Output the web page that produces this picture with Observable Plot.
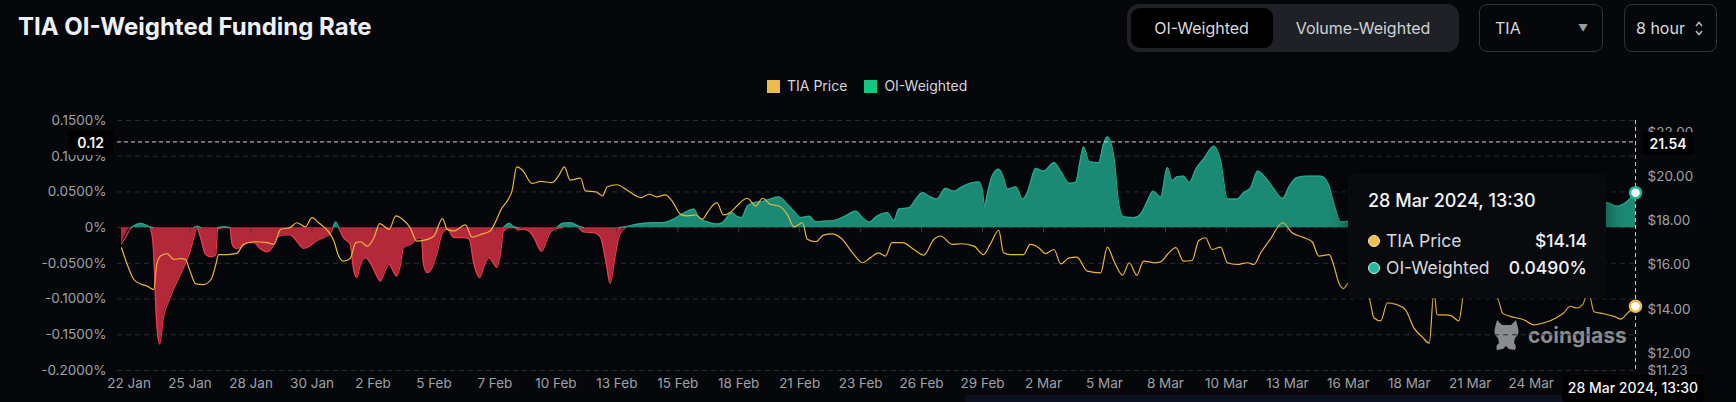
<!DOCTYPE html>
<html><head><meta charset="utf-8">
<script src="https://cdn.jsdelivr.net/npm/d3@7"></script>
<script src="https://cdn.jsdelivr.net/npm/@observablehq/plot@0.6"></script>
<style>
html,body{margin:0;padding:0;background:#05070b;}
body{width:1736px;height:402px;overflow:hidden;position:relative;font-family:Inter,"Noto Sans",sans-serif;}
.abs{position:absolute;}
#title{left:18px;top:13px;font-size:24px;font-weight:700;color:#eef0f4;letter-spacing:0px;white-space:nowrap;line-height:28px;}
#seg{left:1127px;top:4px;width:332px;height:48px;background:#1f2127;border-radius:12px;}
#segOn{left:3.5px;top:4px;width:142px;height:40px;background:#000;border-radius:9px;color:#d8dadd;font-size:16px;line-height:40px;text-align:center;}
#segOff{left:166px;top:4px;width:140px;height:40px;color:#d0d2d6;font-size:16px;line-height:40px;text-align:center;}
.box{top:4px;height:46px;border:1px solid #30333a;border-radius:8px;color:#d8dadd;font-size:16px;line-height:46px;}
#legend{left:767px;top:78px;font-size:14px;color:#d4d6da;line-height:15px;white-space:nowrap;}
.sw{display:inline-block;width:13px;height:13px;vertical-align:-2px;margin-right:7px;}
#chart{left:0;top:100px;z-index:1;}
#wm{left:1493px;top:318px;z-index:0;white-space:nowrap;color:#8a8b8e;font-weight:700;font-size:21px;}
#tip{left:1348px;top:173px;width:258px;height:125px;background:#090a0e;border-radius:4px;z-index:2;box-shadow:0 0 20px rgba(0,0,0,0.5);color:#d6d8dc;}
.badge{background:#000;color:#f4f4f4;z-index:3;text-align:center;border-radius:3px;}
#strip{left:965px;top:395px;width:676px;height:7px;background:#0b1120;z-index:0;}
</style></head>
<body>
<div id="title" class="abs">TIA OI-Weighted Funding Rate</div>
<div id="seg" class="abs"><div id="segOn" class="abs">OI-Weighted</div><div id="segOff" class="abs">Volume-Weighted</div></div>
<div class="abs box" style="left:1479px;width:122px;"><span style="margin-left:15px">TIA</span><span class="abs" style="left:98px;top:0;font-size:10px;color:#9a9ca0">&#9660;</span></div>
<div class="abs box" style="left:1624px;width:91px;"><span style="margin-left:11px">8 hour</span><svg class="abs" style="left:69px;top:15px" width="10" height="17" viewBox="0 0 10 17"><path d="M2 6 L5 2.5 L8 6 M2 11 L5 14.5 L8 11" fill="none" stroke="#b8babe" stroke-width="1.5"/></svg></div>
<div id="legend" class="abs"><span class="sw" style="background:#ecbb4c"></span>TIA Price<span class="sw" style="background:#16c784;margin-left:17px"></span>OI-Weighted</div>
<div id="strip" class="abs"></div>
<div id="wm" class="abs"><svg width="27" height="34" viewBox="0 0 27 34" style="vertical-align:-9px;margin-right:8px"><path d="M4 2 L9 7 L18 7 L23 2 L25 10 Q27 16 22 20 L21 25 Q24 28 22 32 L16 31 L13 28 L10 31 L4 32 Q2 28 6 25 L5 20 Q0 16 2 10 Z" fill="#8a8b8e"/></svg>coinglass</div>
<div id="chart" class="abs"></div>
<div id="tip" class="abs">
  <div class="abs" style="left:20px;top:17px;font-size:18px;font-weight:500;color:#f2f3f5;white-space:nowrap">28 Mar 2024, 13:30</div>
  <div class="abs" style="left:20px;top:57px;width:219px;font-size:17.5px;line-height:22px;">
    <span style="display:inline-block;width:10px;height:10px;border-radius:50%;background:#efbf4e;border:1px solid #f6e7c0;vertical-align:0px;margin-right:6px"></span>TIA Price<span style="float:right;color:#f2f3f5;font-weight:500">$14.14</span>
  </div>
  <div class="abs" style="left:20px;top:84px;width:219px;font-size:17.5px;line-height:22px;">
    <span style="display:inline-block;width:10px;height:10px;border-radius:50%;background:#25b89d;border:1px solid #bfeee4;vertical-align:0px;margin-right:6px"></span>OI-Weighted<span style="float:right;color:#f2f3f5;font-weight:500">0.0490%</span>
  </div>
</div>
<div class="abs badge" style="left:68px;top:130px;width:45px;height:25px;line-height:25px;font-size:14px;font-weight:600">0.12</div>
<div class="abs badge" style="left:1642px;top:132px;width:52px;height:23px;line-height:23px;font-size:14px;font-weight:600">21.54</div>
<div class="abs badge" style="left:1562px;top:375px;width:142px;height:27px;line-height:25px;font-size:14px;font-weight:500">28 Mar 2024, 13:30</div>
<script>
const rateTimes = ["01-22 08","01-22 18","01-23 04","01-23 14","01-23 17","01-23 21","01-24 00","01-24 04","01-24 11","01-24 22","01-25 07","01-25 12","01-25 15","01-25 19","01-26 00","01-26 06","01-26 11","01-26 13","01-26 20","01-27 02","01-27 04","01-27 08","01-27 13","01-27 20","01-28 03","01-28 10","01-28 17","01-28 22","01-29 03","01-29 10","01-29 17","01-30 00","01-30 07","01-30 13","01-30 20","01-31 04","01-31 11","01-31 14","01-31 17","01-31 20","02-01 01","02-01 08","02-01 12","02-01 15","02-01 19","02-02 00","02-02 06","02-02 11","02-02 16","02-02 20","02-03 01","02-03 06","02-03 09","02-03 13","02-03 16","02-04 00","02-04 06","02-04 11","02-04 13","02-04 17","02-04 22","02-05 03","02-05 09","02-05 14","02-05 21","02-06 07","02-06 13","02-06 18","02-07 00","02-07 04","02-07 10","02-07 15","02-07 18","02-07 22","02-08 01","02-08 07","02-08 12","02-08 17","02-08 22","02-09 04","02-09 09","02-09 17","02-09 21","02-10 02","02-10 09","02-10 15","02-10 23","02-11 08","02-11 13","02-12 00","02-12 07","02-12 13","02-12 17","02-12 22","02-13 02","02-13 09","02-13 18","02-14 04","02-14 15","02-15 01","02-15 12","02-15 22","02-16 09","02-16 14","02-16 23","02-17 09","02-17 15","02-17 20","02-18 01","02-18 06","02-18 11","02-18 17","02-19 00","02-19 10","02-19 17","02-20 02","02-20 11","02-20 18","02-21 01","02-21 10","02-21 17","02-22 01","02-22 12","02-22 22","02-23 11","02-23 18","02-24 01","02-24 09","02-24 20","02-25 03","02-25 08","02-25 19","02-26 02","02-26 09","02-26 16","02-27 00","02-27 09","02-27 18","02-28 01","02-28 11","02-28 20","02-29 00","02-29 02","02-29 05","02-29 10","02-29 17","02-29 22","03-01 02","03-01 11","03-01 18","03-01 23","03-02 08","03-02 16","03-03 03","03-03 10","03-03 19","03-04 02","03-04 06","03-04 10","03-04 16","03-05 02","03-05 07","03-05 11","03-05 18","03-05 23","03-06 04","03-06 15","03-06 22","03-07 05","03-07 11","03-07 19","03-08 02","03-08 07","03-08 12","03-08 19","03-09 01","03-09 08","03-09 16","03-10 03","03-10 10","03-10 17","03-11 03","03-11 10","03-11 17","03-12 01","03-12 09","03-12 18","03-13 03","03-13 10","03-13 18","03-14 05","03-14 19","03-15 03","03-15 09","03-15 16","03-16 00","03-17 00","03-18 12","03-20 00","03-21 12","03-23 00","03-24 12","03-26 00","03-27 07","03-27 18","03-28 01","03-28 13:30"];
const rateValues = [-0.023,0.000,0.006,0.001,-0.020,-0.135,-0.163,-0.126,-0.098,-0.065,-0.037,-0.014,0.002,-0.014,-0.037,-0.041,-0.038,-0.002,0.001,0.000,-0.023,-0.029,-0.028,-0.021,-0.021,-0.030,-0.034,-0.028,-0.014,-0.010,-0.010,-0.019,-0.029,-0.026,-0.019,-0.014,-0.009,0.000,0.008,0.000,-0.014,-0.023,-0.061,-0.070,-0.051,-0.042,-0.051,-0.065,-0.075,-0.063,-0.051,-0.063,-0.068,-0.051,-0.028,-0.023,-0.016,-0.014,-0.051,-0.063,-0.056,-0.037,-0.007,-0.002,-0.014,-0.014,-0.016,-0.051,-0.070,-0.056,-0.042,-0.051,-0.056,-0.035,-0.005,0.006,0.001,-0.003,-0.002,-0.005,-0.014,-0.033,-0.023,-0.007,-0.001,0.006,0.007,0.002,-0.006,-0.007,-0.014,-0.051,-0.078,-0.042,-0.014,0.001,0.004,0.006,0.007,0.007,0.012,0.020,0.026,0.014,0.008,0.005,0.007,0.015,0.021,0.016,0.014,0.030,0.035,0.037,0.040,0.043,0.033,0.023,0.014,0.016,0.008,0.009,0.010,0.015,0.023,0.014,0.008,0.016,0.021,0.010,0.026,0.028,0.040,0.049,0.044,0.040,0.055,0.051,0.056,0.062,0.064,0.051,0.030,0.047,0.072,0.082,0.070,0.054,0.057,0.040,0.049,0.083,0.079,0.091,0.079,0.062,0.064,0.090,0.113,0.092,0.091,0.117,0.127,0.098,0.033,0.015,0.014,0.019,0.037,0.051,0.043,0.084,0.066,0.071,0.072,0.063,0.082,0.096,0.114,0.093,0.040,0.040,0.049,0.055,0.079,0.070,0.054,0.041,0.058,0.070,0.072,0.072,0.061,0.033,0.008,0.009,0.015,0.010,0.012,0.020,0.015,0.025,0.030,0.035,0.030,0.033,0.049];
const priceTimes = ["01-22 08","01-22 14","01-22 21","01-23 04","01-23 11","01-23 18","01-23 21","01-24 01","01-24 08","01-24 15","01-24 22","01-25 03","01-25 08","01-25 14","01-25 22","01-26 06","01-26 11","01-26 14","01-26 23","01-27 09","01-27 16","01-28 03","01-28 17","01-29 00","01-29 07","01-29 17","01-30 00","01-30 09","01-30 16","01-30 23","01-31 10","01-31 15","01-31 20","02-01 01","02-01 08","02-01 14","02-01 19","02-02 02","02-02 09","02-02 15","02-03 01","02-03 08","02-03 15","02-03 23","02-04 06","02-04 13","02-05 00","02-05 09","02-05 14","02-05 21","02-06 09","02-06 16","02-07 01","02-07 11","02-07 18","02-07 22","02-08 05","02-08 10","02-08 15","02-08 21","02-09 07","02-09 16","02-10 04","02-10 11","02-10 17","02-10 23","02-11 10","02-11 15","02-12 02","02-12 09","02-12 14","02-13 00","02-13 11","02-14 01","02-14 10","02-14 18","02-15 03","02-15 10","02-15 19","02-16 02","02-16 11","02-16 18","02-16 23","02-17 09","02-17 16","02-17 23","02-18 06","02-18 17","02-19 02","02-19 09","02-19 17","02-20 02","02-20 11","02-20 18","02-21 03","02-21 08","02-21 17","02-22 01","02-22 10","02-22 19","02-23 09","02-23 18","02-24 02","02-24 11","02-24 18","02-25 01","02-25 12","02-26 00","02-26 10","02-26 21","02-27 04","02-27 16","02-28 01","02-28 15","02-29 01","02-29 08","02-29 17","02-29 22","03-01 05","03-01 19","03-02 02","03-02 11","03-02 18","03-03 03","03-03 10","03-03 19","03-04 03","03-04 14","03-05 04","03-05 11","03-05 18","03-06 03","03-06 10","03-06 18","03-07 01","03-07 12","03-07 19","03-08 02","03-08 11","03-08 19","03-09 04","03-09 11","03-09 18","03-10 01","03-10 10","03-10 17","03-11 03","03-11 14","03-11 21","03-12 04","03-12 14","03-13 03","03-13 13","03-14 00","03-14 10","03-14 17","03-15 04","03-15 09","03-15 14","03-15 19","03-16 00","03-16 08","03-16 22","03-17 03","03-17 10","03-17 17","03-18 03","03-18 12","03-18 21","03-19 06","03-19 13","03-19 18","03-19 21","03-20 11","03-20 20","03-21 02","03-21 12","03-22 06","03-22 14","03-22 18","03-23 02","03-23 16","03-24 03","03-24 13","03-25 02","03-25 10","03-25 17","03-26 00","03-26 06","03-26 12","03-26 18","03-27 04","03-27 15","03-27 22","03-28 05","03-28 13:30"];
const priceValues = [16.79,16.03,15.35,15.15,15.05,14.89,16.03,16.41,16.52,16.26,16.30,16.26,15.73,15.15,15.12,15.35,16.03,16.48,16.48,16.53,16.94,17.06,17.02,16.94,17.62,17.70,17.92,17.73,18.15,17.92,17.47,17.09,16.41,16.18,16.30,17.02,17.06,16.86,17.24,17.88,17.62,18.23,18.08,17.70,17.09,17.12,17.32,18.11,17.62,17.55,17.82,17.27,17.39,17.55,18.08,18.48,18.91,19.36,20.45,20.30,19.70,19.79,19.74,20.05,20.45,19.85,19.94,19.36,19.32,19.14,19.55,19.64,19.39,19.06,19.21,19.09,19.18,18.91,18.30,18.23,18.27,18.08,18.38,18.83,18.27,18.38,18.68,19.03,18.68,19.03,18.76,18.68,18.30,17.73,17.92,17.17,17.06,17.36,17.42,17.24,16.48,16.11,16.33,16.56,16.41,17.02,17.02,16.71,16.45,17.17,17.32,16.94,16.97,16.86,16.48,16.94,17.58,16.56,16.48,16.48,16.94,16.79,16.52,16.71,16.06,16.33,16.36,15.73,15.65,16.82,16.18,15.55,16.11,15.55,16.18,16.11,16.15,16.48,16.79,16.18,16.21,17.12,17.24,16.71,16.82,16.11,16.03,16.11,16.03,16.56,17.17,17.92,17.47,17.27,17.06,16.41,16.48,15.95,15.20,14.94,15.20,15.30,14.50,13.61,13.48,14.29,14.21,13.98,13.15,12.73,12.47,14.90,13.76,13.73,13.48,14.90,15.20,15.00,14.36,13.83,13.68,13.53,13.30,13.38,13.61,13.83,14.14,14.06,14.21,14.80,13.89,13.80,13.68,13.56,13.83,14.14];
const xTickTimes = ["01-22 16","01-25 08","01-28 00","01-30 16","02-02 08","02-05 00","02-07 16","02-10 08","02-13 00","02-15 16","02-18 08","02-21 00","02-23 16","02-26 08","02-29 00","03-02 16","03-05 08","03-08 00","03-10 16","03-13 08","03-16 00","03-18 16","03-21 08","03-24 00","03-26 16"];
const xTickLabels = ["22 Jan","25 Jan","28 Jan","30 Jan","2 Feb","5 Feb","7 Feb","10 Feb","13 Feb","15 Feb","18 Feb","21 Feb","23 Feb","26 Feb","29 Feb","2 Mar","5 Mar","8 Mar","10 Mar","13 Mar","16 Mar","18 Mar","21 Mar","24 Mar"];
const rateTicks = [0.15, 0.10, 0.05, 0, -0.05, -0.10, -0.15, -0.20];
const priceTicks = [22, 20, 18, 16, 14, 12, 11.23];
const rateDomain = [-0.2, 0.15];
const priceDomain = [11.23, 22.55];
const crossRate = 0.12;
const hoverTime = "03-28 13:30";
const hoverPrice = 14.14;
const hoverRate = 0.0490;

const parse = s => new Date("2024-" + s.replace(" ", "T") + (s.length > 8 ? ":00Z" : ":00:00Z"));
const p2r = d3.scaleLinear(priceDomain, rateDomain);
const rate = rateTimes.map((t, i) => ({t: parse(t), v: rateValues[i]}));
const price = priceTimes.map((t, i) => ({t: parse(t), p: priceValues[i]}));
const ticks = xTickTimes.map(parse);
const labels = xTickLabels.map((l, i) => ({t: ticks[i], label: l}));
const near = (i, f) => f(rate[i].v) || (i > 0 && f(rate[i-1].v)) || (i < rate.length - 1 && f(rate[i+1].v));
const posLine = rate.map((d, i) => near(i, v => v > 0) ? Math.max(0, d.v) : NaN);
const negLine = rate.map((d, i) => near(i, v => v < 0) ? Math.min(0, d.v) : NaN);
const hoverT = parse(hoverTime);
const fmtRate = d => d === 0 ? "0%" : d.toFixed(4) + "%";
const grey = "#9ea1a7";

const chart = Plot.plot({
  width: 1736, height: 302,
  marginTop: 20, marginBottom: 32, marginLeft: 121, marginRight: 101,
  style: {background: "transparent", color: grey, fontFamily: "Inter, 'Noto Sans', sans-serif", fontSize: "13.5px", overflow: "visible"},
  x: {type: "utc", domain: [rate[0].t, hoverT], axis: null},
  y: {domain: rateDomain, axis: null},
  marks: [
    Plot.ruleY(rateTicks, {stroke: "#2a2d33", strokeDasharray: "5,4", insetLeft: -4}),
    Plot.areaY(rate, {x: "t", y1: 0, y2: d => Math.min(0, d.v), fill: "#b3293a", curve: "monotone-x"}),
    Plot.lineY(rate, {x: "t", y: negLine, stroke: "#ee3b4e", strokeWidth: 1.2, curve: "monotone-x"}),
    Plot.areaY(rate, {x: "t", y1: 0, y2: d => Math.max(0, d.v), fill: "#1b8a74", curve: "monotone-x"}),
    Plot.lineY(rate, {x: "t", y: posLine, stroke: "#27a98d", strokeWidth: 1.2, curve: "monotone-x"}),
    Plot.ruleX(ticks, {x: d => d, y1: 0, y2: -0.007, stroke: "#3a3d44"}),
    Plot.lineY(price, {x: "t", y: d => p2r(d.p), stroke: "#eab53d", strokeWidth: 1.2, curve: "monotone-x"}),
    Plot.ruleY([crossRate], {stroke: "#d6d6d6", strokeDasharray: "4,3", insetLeft: -4}),
    Plot.ruleX([hoverT], {stroke: "#c8c8c8", strokeDasharray: "4,3"}),
    Plot.dot([0], {x: () => hoverT, y: () => hoverRate, r: 5.5, fill: "#fff", stroke: "#22b39a", strokeWidth: 2.5}),
    Plot.dot([0], {x: () => hoverT, y: () => p2r(hoverPrice), r: 5.5, fill: "#fff", stroke: "#efbc45", strokeWidth: 2.5}),
    Plot.text(rateTicks, {y: d => d, text: fmtRate, frameAnchor: "left", textAnchor: "end", dx: -15, fill: grey}),
    Plot.text(priceTicks, {y: d => p2r(d), text: d => "$" + d.toFixed(2), frameAnchor: "right", textAnchor: "start", dx: 12, fill: grey}),
    Plot.text(labels, {x: "t", text: "label", frameAnchor: "bottom", dy: 17, fill: grey})
  ]
});
document.getElementById("chart").appendChild(chart);
</script>
</body></html>
